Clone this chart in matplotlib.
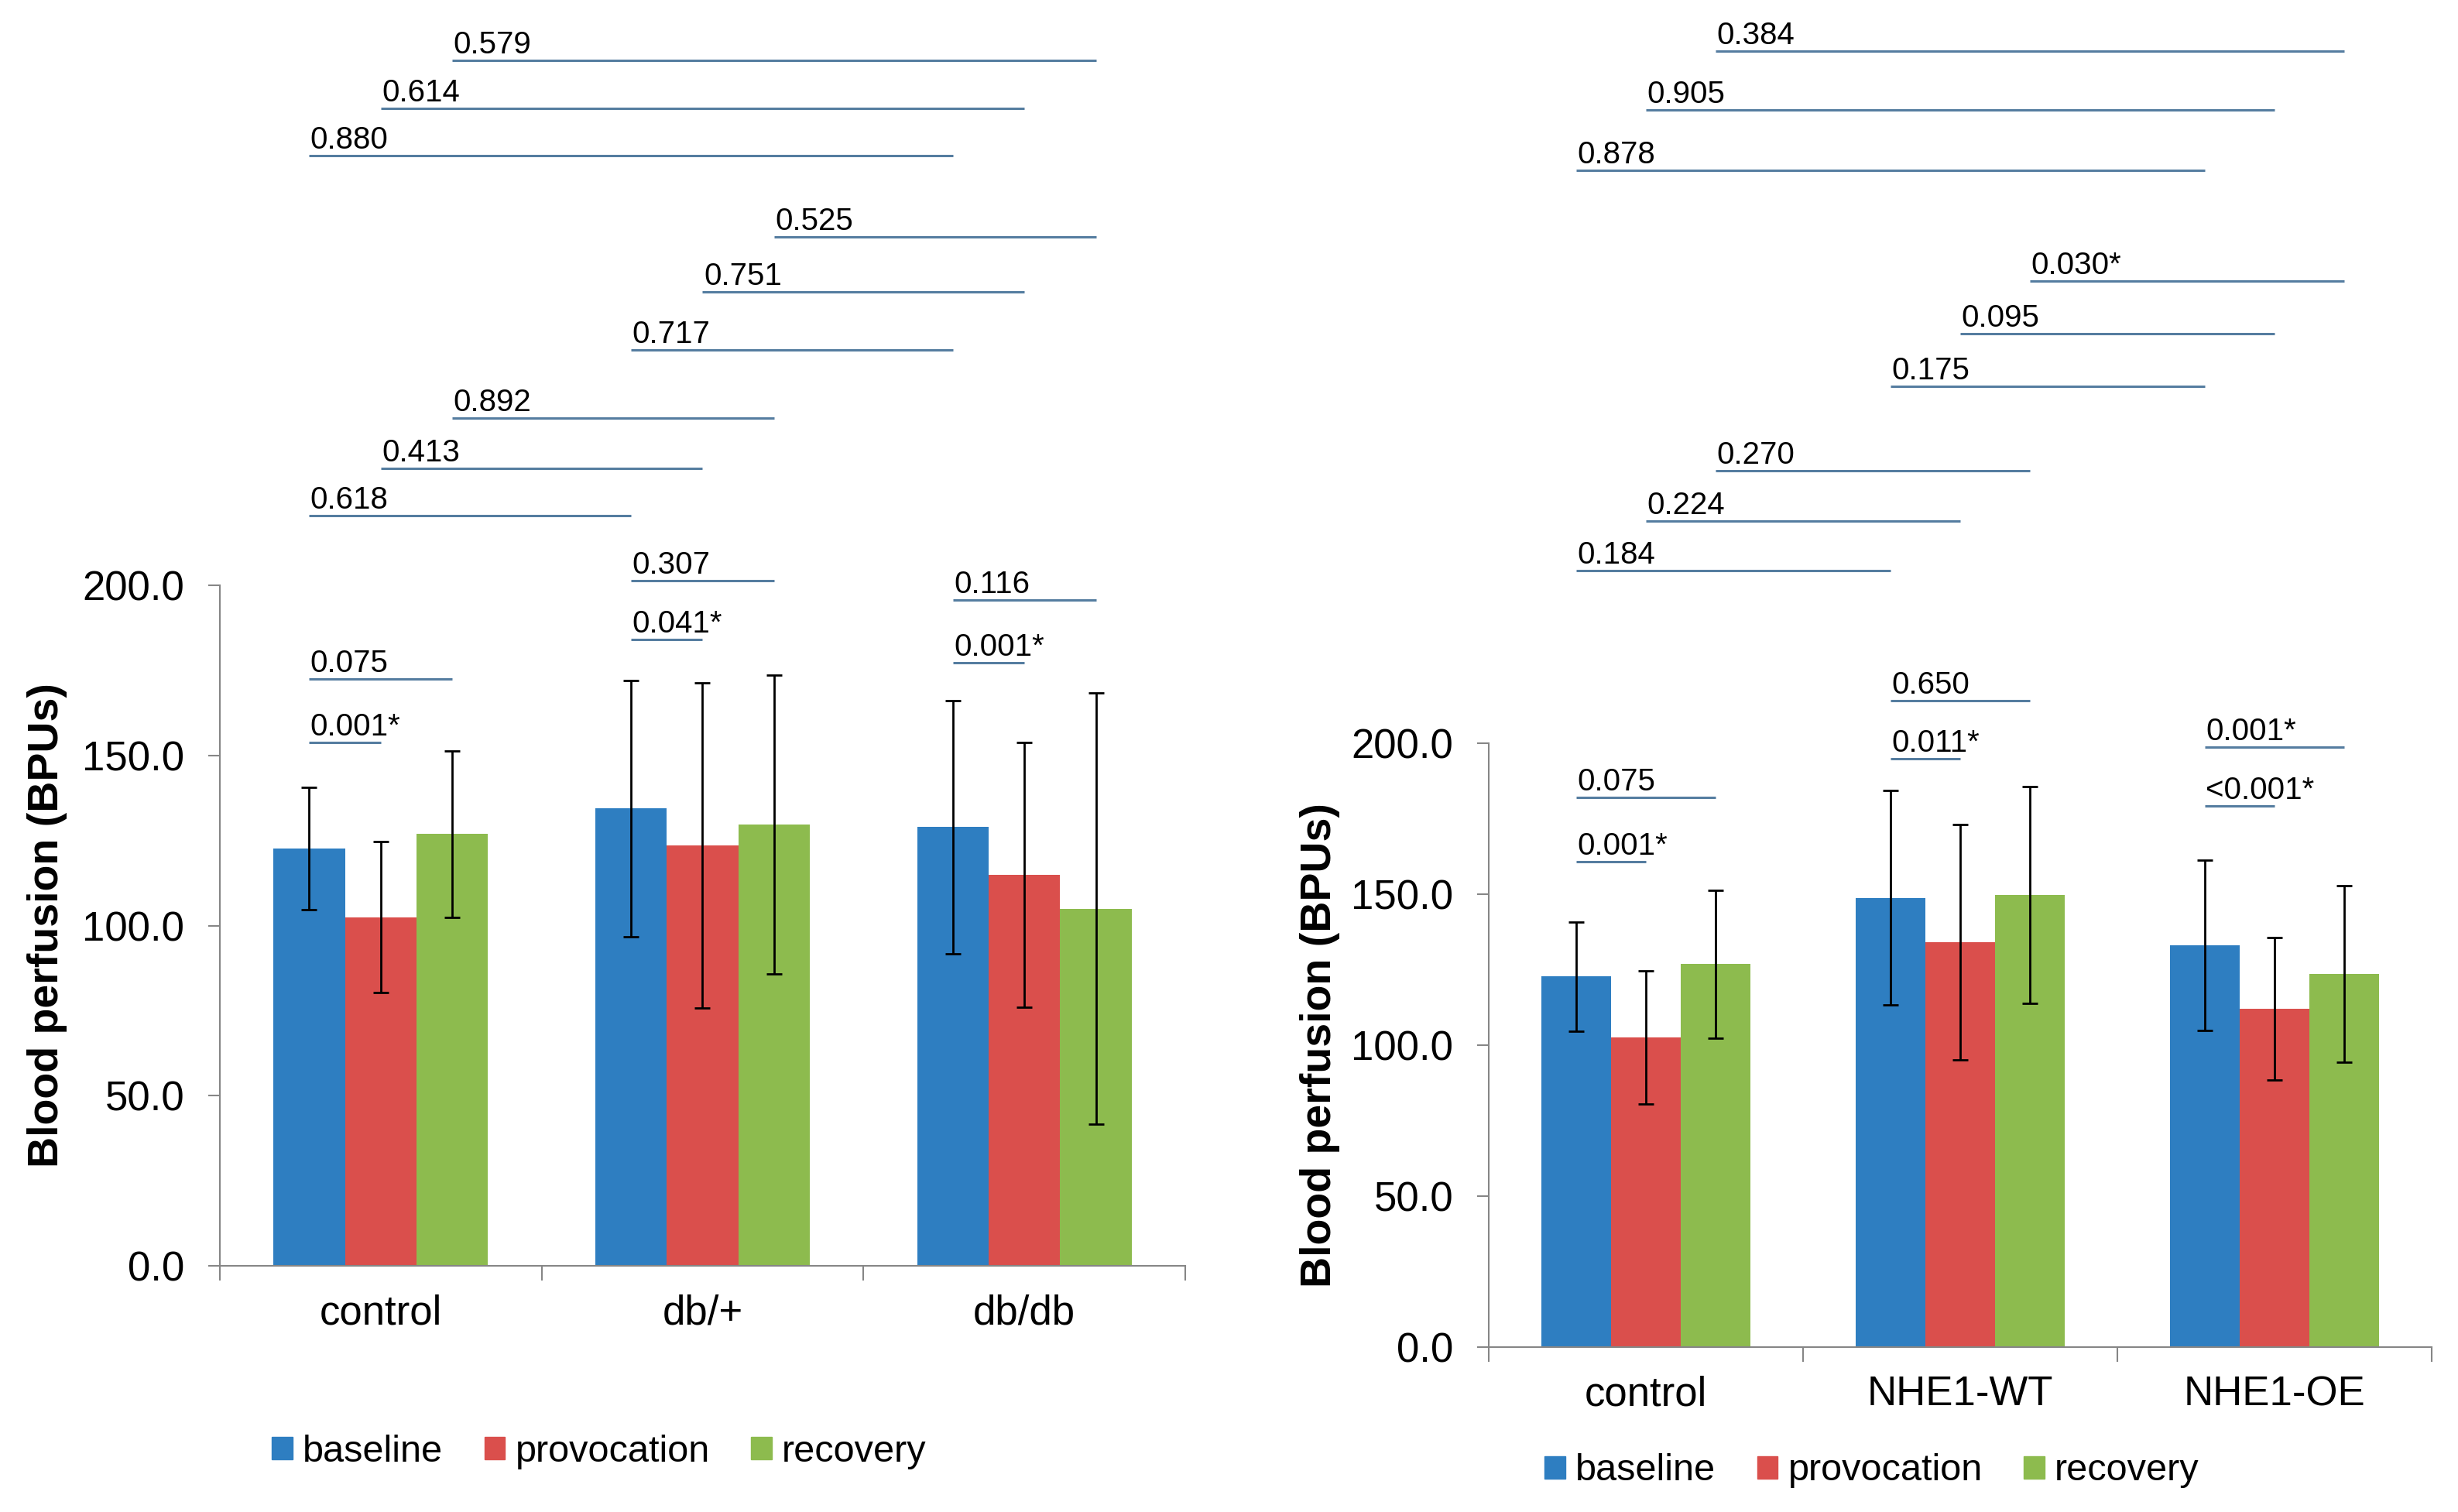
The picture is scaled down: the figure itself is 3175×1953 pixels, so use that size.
import numpy as np
import matplotlib
matplotlib.use('Agg')
import matplotlib.pyplot as plt
from matplotlib.patches import Patch

plt.rcParams['font.family'] = ['Liberation Sans', 'DejaVu Sans']

series = ['baseline', 'provocation', 'recovery']
colors = ['#2E7EC1', '#DA4F4C', '#8DBB4E']
sig_color = '#557DA0'

# left panel: db mice
left_groups = ['control', 'db/+', 'db/db']
left_mean = [[122.7, 134.4, 129.0],
             [102.5, 123.6, 114.9],
             [126.9, 129.7, 105.0]]
left_sd = [[18.0, 37.7, 37.2],
           [22.1, 47.8, 38.9],
           [24.5, 43.9, 63.3]]

# right panel: NHE1 mice
right_groups = ['control', 'NHE1-WT', 'NHE1-OE']
right_mean = [[122.7, 148.8, 133.1],
              [102.5, 134.1, 112.1],
              [126.9, 149.8, 123.6]]
right_sd = [[18.0, 35.5, 28.1],
            [22.1, 39.0, 23.6],
            [24.5, 35.9, 29.3]]

# p-values between bars, (group, bar) -> (group, bar)
left_sig_labels = ['0.001*', '0.075', '0.041*', '0.307', '0.001*', '0.116',
                   '0.618', '0.413', '0.892', '0.717', '0.751', '0.525',
                   '0.880', '0.614', '0.579']
left_sig_from = [(0, 0), (0, 0), (1, 0), (1, 0), (2, 0), (2, 0),
                 (0, 0), (0, 1), (0, 2), (1, 0), (1, 1), (1, 2),
                 (0, 0), (0, 1), (0, 2)]
left_sig_to = [(0, 1), (0, 2), (1, 1), (1, 2), (2, 1), (2, 2),
               (1, 0), (1, 1), (1, 2), (2, 0), (2, 1), (2, 2),
               (2, 0), (2, 1), (2, 2)]
left_sig_levels = [153.7, 172.5, 184.1, 201.3, 177.2, 195.7,
                   220.5, 234.4, 249.1, 269.2, 286.2, 302.4,
                   326.3, 340.2, 354.3]

right_sig_labels = ['0.001*', '0.075', '0.011*', '0.650', '<0.001*', '0.001*',
                    '0.184', '0.224', '0.270', '0.175', '0.095', '0.030*',
                    '0.878', '0.905', '0.384']
right_sig_from = left_sig_from
right_sig_to = left_sig_to
right_sig_levels = [160.8, 182.0, 194.9, 214.2, 179.2, 198.8,
                    257.1, 273.5, 290.2, 318.2, 335.6, 353.1,
                    389.7, 409.8, 429.2]

W, H = 3175, 1953
fig = plt.figure(figsize=(W / 100, H / 100), dpi=100)

bw = 1 / 4.5


def bar_x(g, b):
    return g + (b - 1) * bw


def panel(rect, groups, mean, sd, sig_labels, sig_from, sig_to, sig_levels,
          ylab_x, leg_xy):
    ax = fig.add_axes(rect)
    x = np.arange(len(groups))
    for j in range(3):
        ax.bar(x + (j - 1) * bw, mean[j], bw, color=colors[j], label=series[j],
               zorder=2)
        ax.errorbar(x + (j - 1) * bw, mean[j], yerr=sd[j], fmt='none',
                    ecolor='black', elinewidth=2, capsize=7, capthick=2,
                    zorder=3)
    ax.set_xlim(-0.5, len(groups) - 0.5)
    ax.set_ylim(0, 200)
    ax.set_yticks([0, 50, 100, 150, 200])
    ax.set_yticklabels(['%.1f' % v for v in [0, 50, 100, 150, 200]])
    ax.set_xticks(x)
    ax.set_xticklabels(groups)
    ax.set_xticks(np.arange(-0.5, len(groups)), minor=True)
    for s in ['top', 'right']:
        ax.spines[s].set_visible(False)
    for s in ['left', 'bottom']:
        ax.spines[s].set_color('#868686')
        ax.spines[s].set_linewidth(1.5)
    ax.tick_params(axis='y', length=11, width=1.5, color='#868686',
                   labelsize=38, pad=22)
    ax.tick_params(axis='x', which='major', length=0, labelsize=38, pad=26)
    ax.tick_params(axis='x', which='minor', length=14, width=1.5,
                   color='#868686')
    ax.set_ylabel('Blood perfusion (BPUs)', fontsize=40, fontweight='bold')
    ax.yaxis.set_label_coords(ylab_x, 0.5)

    for lab, a, b, lev in zip(sig_labels, sig_from, sig_to, sig_levels):
        x0 = bar_x(*a)
        x1 = bar_x(*b)
        ax.plot([x0, x1], [lev, lev], color=sig_color, lw=2.2, clip_on=False,
                solid_capstyle='butt')
        ax.annotate(lab, (x0, lev), xytext=(1, 6.5), textcoords='offset points',
                    ha='left', va='baseline', fontsize=29,
                    annotation_clip=False)

    handles = [Patch(color=c, label=s) for c, s in zip(colors, series)]
    fig.legend(handles=handles, loc='center', bbox_to_anchor=leg_xy, ncol=3,
               frameon=False, fontsize=35, handlelength=0.55,
               handleheight=0.55, handletextpad=0.27, columnspacing=1.1,
               borderpad=0, borderaxespad=0)
    return ax


panel([284 / W, 1 - 1635 / H, 1247 / W, 879 / H], left_groups, left_mean,
      left_sd, left_sig_labels, left_sig_from, left_sig_to, left_sig_levels,
      -0.158, (774 / W, 1 - 1875 / H))
panel([1923 / W, 1 - 1740 / H, 1218 / W, 780 / H], right_groups, right_mean,
      right_sd, right_sig_labels, right_sig_from, right_sig_to,
      right_sig_levels, -0.158, (2418 / W, 1 - 1900 / H))

fig.savefig('out.png', dpi=100)
